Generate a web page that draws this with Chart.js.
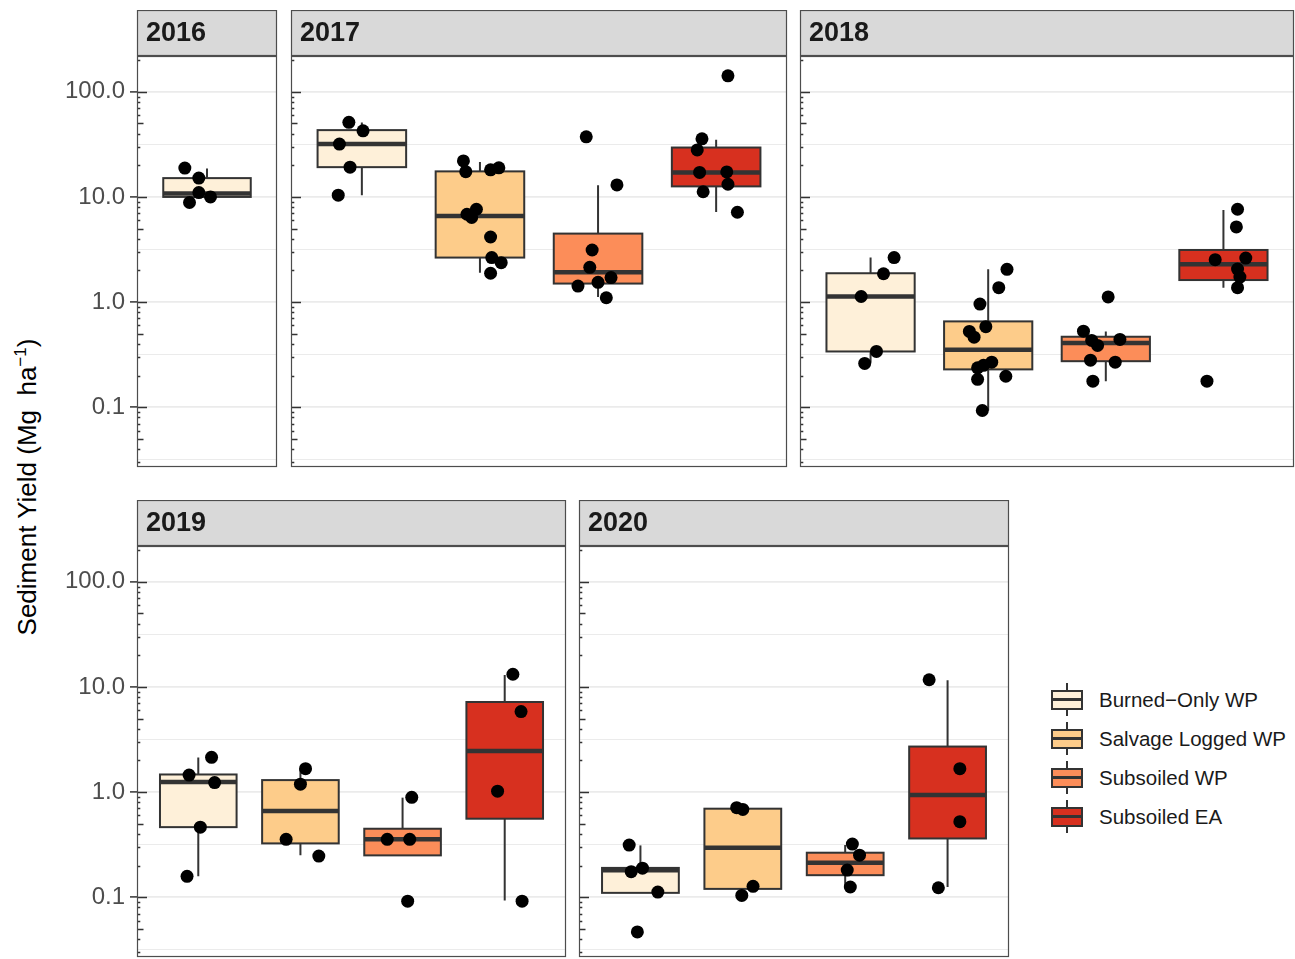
<!DOCTYPE html>
<html>
<head>
<meta charset="utf-8">
<script src="https://cdn.jsdelivr.net/npm/chart.js@4.4.1/dist/chart.umd.min.js"></script>
<style>
  body { margin: 0; background: #fff; width: 1295px; height: 959px; overflow: hidden; position: relative;
         font-family: "Liberation Sans", Arial, sans-serif; }
  canvas { position: absolute; }
  #ytitle { position: absolute; left: 27px; top: 487px; transform: translate(-50%, -50%) rotate(-90deg);
            font-size: 26px; white-space: nowrap; color: #000; }
  #ytitle sup { font-size: 17px; line-height: 0; }
  .key { position: absolute; }
  .whisker { position: absolute; left: 15px; top: 0; width: 2px; height: 33px; background: #333; }
  .kbox { position: absolute; left: 0; top: 7px; width: 32px; height: 20px; border: 2px solid #333; box-sizing: border-box; }
  .kmed { position: absolute; left: 0; right: 0; top: 6px; height: 3px; background: #333; }
  .ktext { position: absolute; left: 48px; top: 5px; font-size: 20.5px; color: #1a1a1a; white-space: nowrap; }
</style>
</head>
<body>
<div id="ytitle">Sediment Yield (Mg&nbsp;&nbsp;ha<sup>&minus;1</sup>)</div>
<div id="legend"></div>
<script>
  const groups = ["Burned\u2212Only WP", "Salvage Logged WP", "Subsoiled WP", "Subsoiled EA"];
  const years = ["2016", "2017", "2018", "2019", "2020"];

  // box stats per treatment: [lower whisker, q1, median, q3, upper whisker]
  const box2016 = [[9.95, 10.0, 10.8, 15.1, 18.6]];
  const box2017 = [
    [10.4, 19.2, 31.8, 43.2, 51.1],
    [1.9, 2.65, 6.6, 17.5, 21.5],
    [1.12, 1.5, 1.92, 4.48, 12.9],
    [7.2, 12.6, 17.1, 29.5, 34.9],
  ];
  const box2018 = [
    [0.265, 0.339, 1.13, 1.88, 2.65],
    [0.093, 0.229, 0.352, 0.655, 2.05],
    [0.177, 0.274, 0.407, 0.468, 0.526],
    [1.37, 1.62, 2.29, 3.13, 7.52],
  ];
  const box2019 = [
    [0.158, 0.464, 1.25, 1.47, 2.13],
    [0.25, 0.325, 0.659, 1.3, 1.67],
    [0.25, 0.25, 0.355, 0.448, 0.885],
    [0.093, 0.558, 2.46, 7.19, 13.0],
  ];
  const box2020 = [
    [0.11, 0.11, 0.18, 0.19, 0.311],
    [0.12, 0.12, 0.295, 0.695, 0.695],
    [0.126, 0.162, 0.213, 0.265, 0.313],
    [0.125, 0.362, 0.936, 2.71, 11.6],
  ];

  // jittered observations: [x position (category units), yield]
  const pts2016 = [[0.81, 18.8], [0.93, 15.1], [0.93, 11.0], [0.85, 8.85], [1.03, 10.0]];
  const pts2017 = [
    [0.89, 51.2], [1.01, 42.5], [0.81, 31.8], [0.9, 19.2], [0.8, 10.4],
    [1.86, 22.0], [1.88, 17.4], [2.09, 18.1], [2.16, 18.9], [1.97, 7.64], [1.89, 6.84], [1.93, 6.37],
    [2.09, 4.16], [2.1, 2.65], [2.18, 2.37], [2.09, 1.88],
    [2.9, 37.3], [3.16, 13.0], [2.95, 3.13], [2.93, 2.14], [3.11, 1.71], [2.83, 1.42], [3.0, 1.54], [3.07, 1.1],
    [4.1, 142], [3.88, 35.7], [3.84, 28.0], [3.86, 17.1], [4.09, 17.3], [4.1, 13.2], [3.89, 11.2], [4.18, 7.15],
  ];
  const pts2018 = [
    [1.2, 2.65], [1.11, 1.86], [0.92, 1.13], [1.05, 0.339], [0.95, 0.261],
    [2.16, 2.05], [2.09, 1.37], [1.93, 0.957], [1.98, 0.583], [1.84, 0.526], [1.88, 0.464],
    [2.03, 0.268], [1.96, 0.25], [1.91, 0.237], [2.15, 0.197], [1.91, 0.184], [1.95, 0.093],
    [3.02, 1.12], [2.81, 0.529], [2.88, 0.432], [2.93, 0.387], [3.12, 0.441], [2.87, 0.28], [3.08, 0.268], [2.89, 0.177],
    [4.12, 7.64], [4.11, 5.18], [3.93, 2.53], [4.19, 2.62], [4.12, 2.06], [4.14, 1.73], [4.12, 1.37], [3.86, 0.177],
  ];
  const pts2019 = [
    [1.13, 2.14], [0.91, 1.45], [1.16, 1.23], [1.02, 0.464], [0.89, 0.158],
    [2.05, 1.67], [2.0, 1.19], [1.86, 0.355], [2.18, 0.246],
    [3.09, 0.891], [2.85, 0.355], [3.07, 0.355], [3.05, 0.0916],
    [4.08, 13.2], [4.16, 5.83], [3.93, 1.02], [4.17, 0.0916],
  ];
  const pts2020 = [
    [0.89, 0.313], [0.91, 0.175], [1.02, 0.189], [1.17, 0.112], [0.97, 0.0468],
    [1.94, 0.71], [2.0, 0.684], [2.1, 0.127], [1.99, 0.104],
    [3.07, 0.32], [3.14, 0.251], [3.02, 0.181], [3.05, 0.125],
    [3.82, 11.7], [4.12, 1.67], [4.12, 0.523], [3.91, 0.123],
  ];

  const yLabels = { "0.1": "0.1", "1": "1.0", "10": "10.0", "100": "100.0" };
  const gridValues = [0.0316, 0.1, 0.316, 1, 3.16, 10, 31.6, 100];
  const Y_MIN = 0.027;
  const Y_MAX = 219;

  const fills = ["#FEF0D9", "#FDCC8A", "#FC8D59", "#D7301F"];
  const INK = "#333333";
  const BORDER = "#4d4d4d";
  const FONT = '"Liberation Sans", Arial, sans-serif';

  const panels = [
    { year: years[0], box: box2016, pts: pts2016, left: 137, top: 10, right: 277, bottom: 467, labels: true },
    { year: years[1], box: box2017, pts: pts2017, left: 291, top: 10, right: 787, bottom: 467 },
    { year: years[2], box: box2018, pts: pts2018, left: 800, top: 10, right: 1294, bottom: 467 },
    { year: years[3], box: box2019, pts: pts2019, left: 137, top: 500, right: 566, bottom: 957, labels: true },
    { year: years[4], box: box2020, pts: pts2020, left: 579, top: 500, right: 1009, bottom: 957 },
  ];

  function isMajor(v) {
    const l = Math.log10(v);
    return Math.abs(l - Math.round(l)) < 0.01;
  }

  const facetPlugin = {
    id: "facet",
    beforeDraw(chart) {
      const { ctx, chartArea: a } = chart;
      const o = chart.options.plugins.facet;
      ctx.save();
      ctx.fillStyle = "#d9d9d9";
      ctx.fillRect(a.left, a.top - 46, a.right - a.left, 46);
      ctx.strokeStyle = BORDER;
      ctx.lineWidth = 1.2;
      ctx.strokeRect(a.left + 0.5, a.top - 45.5, a.right - a.left - 1, 45);
      ctx.fillStyle = "#1a1a1a";
      ctx.font = "bold 27px " + FONT;
      ctx.textBaseline = "middle";
      ctx.fillText(o.year, a.left + 9, a.top - 22);
      ctx.restore();
    },
    beforeDatasetsDraw(chart) {
      const { ctx } = chart;
      const xs = chart.scales.x;
      const ys = chart.scales.y;
      const o = chart.options.plugins.facet;
      ctx.save();
      ctx.strokeStyle = INK;
      o.box.forEach(([lo, q1, med, q3, hi], i) => {
        const xc = xs.getPixelForValue(i + 1);
        const hw = xs.getPixelForValue(i + 1.375) - xc;
        const yLo = ys.getPixelForValue(lo), yQ1 = ys.getPixelForValue(q1);
        const yMed = ys.getPixelForValue(med), yQ3 = ys.getPixelForValue(q3), yHi = ys.getPixelForValue(hi);
        ctx.lineWidth = 2;
        ctx.beginPath();
        ctx.moveTo(xc, yHi); ctx.lineTo(xc, yQ3);
        ctx.moveTo(xc, yQ1); ctx.lineTo(xc, yLo);
        ctx.stroke();
        ctx.fillStyle = fills[i];
        ctx.fillRect(xc - hw, yQ3, 2 * hw, yQ1 - yQ3);
        ctx.strokeRect(xc - hw, yQ3, 2 * hw, yQ1 - yQ3);
        ctx.lineWidth = 4.5;
        ctx.beginPath();
        ctx.moveTo(xc - hw, yMed); ctx.lineTo(xc + hw, yMed);
        ctx.stroke();
      });
      ctx.restore();
    },
    afterDraw(chart) {
      const { ctx, chartArea: a } = chart;
      const ys = chart.scales.y;
      ctx.save();
      // log ticks along the left edge
      ctx.strokeStyle = INK;
      ctx.lineWidth = 1.5;
      ctx.beginPath();
      for (let d = -2; d <= 2; d++) {
        for (let m = 1; m <= 9; m++) {
          const v = m * Math.pow(10, d);
          if (v < Y_MIN || v > Y_MAX) continue;
          const y = Math.round(ys.getPixelForValue(v)) + 0.5;
          const len = m === 1 ? 10 : m === 5 ? 6.5 : 3.3;
          ctx.moveTo(a.left, y); ctx.lineTo(a.left + len, y);
        }
      }
      ctx.stroke();
      ctx.strokeStyle = BORDER;
      ctx.lineWidth = 1.2;
      ctx.strokeRect(a.left + 0.5, a.top + 0.5, a.right - a.left - 1, a.bottom - a.top - 1);
      ctx.restore();
    },
  };

  function makePanel(p) {
    const axisW = p.labels ? 85 : 1;
    const cLeft = p.left - axisW;
    const canvas = document.createElement("canvas");
    canvas.width = p.right - cLeft + 1;
    canvas.height = p.bottom - p.top + 1;
    canvas.style.left = cLeft + "px";
    canvas.style.top = p.top + "px";
    document.body.appendChild(canvas);

    new Chart(canvas, {
      type: "scatter",
      data: {
        datasets: [{
          data: p.pts.map(([x, y]) => ({ x, y })),
          backgroundColor: "#000",
          borderWidth: 0,
          pointRadius: 6.5,
          pointHoverRadius: 6.5,
        }],
      },
      options: {
        responsive: false,
        animation: false,
        devicePixelRatio: 1,
        layout: { autoPadding: false, padding: { left: 0, top: 46, right: 1, bottom: 1 } },
        plugins: {
          legend: { display: false },
          tooltip: { enabled: false },
          facet: { year: p.year, box: p.box },
        },
        scales: {
          x: { type: "linear", display: false, min: 0.4, max: p.box.length + 0.6 },
          y: {
            type: "logarithmic",
            min: Y_MIN,
            max: Y_MAX,
            afterBuildTicks: (s) => { s.ticks = gridValues.map((v) => ({ value: v })); },
            afterFit: (s) => {
              s.width = axisW;
              s.paddingTop = 0;
              s.paddingBottom = 0;
            },
            border: { display: false },
            grid: {
              color: "#ebebeb",
              lineWidth: (c) => (c.tick && isMajor(c.tick.value) ? 1.8 : 1),
              drawTicks: !!p.labels,
              tickLength: 7,
              tickWidth: 1.5,
              tickColor: (c) => (c.tick && isMajor(c.tick.value) ? INK : "rgba(0,0,0,0)"),
            },
            ticks: {
              display: !!p.labels,
              padding: 5,
              color: "#4d4d4d",
              font: { size: 24, family: FONT },
              autoSkip: false,
              callback: (v) => (isMajor(v) ? yLabels[String(Math.round(v * 10) / 10)] || "" : ""),
            },
          },
        },
      },
      plugins: [facetPlugin],
    });
  }

  panels.forEach(makePanel);

  const legend = document.getElementById("legend");
  groups.forEach((g, i) => {
    const item = document.createElement("div");
    item.className = "key";
    item.style.left = "1051px";
    item.style.top = (683 + 39 * i) + "px";
    item.innerHTML =
      '<div class="whisker"></div>' +
      '<div class="kbox" style="background:' + fills[i] + '"><div class="kmed"></div></div>' +
      '<div class="ktext">' + g + "</div>";
    legend.appendChild(item);
  });
</script>
</body>
</html>
